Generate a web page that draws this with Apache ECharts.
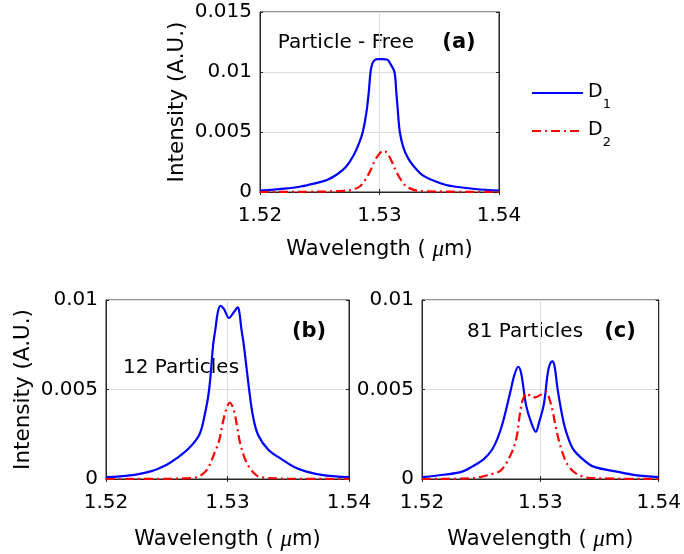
<!DOCTYPE html>
<html>
<head>
<meta charset="utf-8">
<script src="https://cdn.jsdelivr.net/npm/echarts@6/dist/echarts.min.js"></script>
<style>
html,body{margin:0;padding:0;background:#fff;}
#chart{width:684px;height:554px;}
</style>
</head>
<body>
<div id="chart"></div>
<script>
// ---- data ----
const xTicks = [1.52, 1.53, 1.54];
const yTicksA = [0, 0.005, 0.01, 0.015];
const yTicksBC = [0, 0.005, 0.01];

// Panel (a) Particle-Free
const wlA1 = [1.520, 1.522, 1.5233, 1.5245, 1.5256, 1.5265, 1.5272, 1.5278, 1.5283, 1.5286, 1.5289, 1.5291, 1.52925, 1.5294, 1.5296, 1.5299, 1.5302, 1.5305, 1.5307, 1.5309, 1.53125, 1.5314, 1.5315, 1.5317, 1.5320, 1.5324, 1.5329, 1.5336, 1.5344, 1.5355, 1.5364, 1.538, 1.540];
const d1A = [0.00011, 0.00028, 0.00044, 0.0007, 0.001, 0.0015, 0.0021, 0.003, 0.0041, 0.005, 0.0066, 0.0083, 0.0100, 0.0107, 0.0110, 0.01108, 0.01108, 0.01105, 0.0110, 0.0107, 0.0100, 0.0084, 0.0072, 0.005, 0.0037, 0.0028, 0.0021, 0.0014, 0.001, 0.0006, 0.00044, 0.00025, 0.00011];
const wlA2 = [1.520, 1.524, 1.526, 1.527, 1.5278, 1.5284, 1.5288, 1.5292, 1.5296, 1.5300, 1.5303, 1.5306, 1.5310, 1.5314, 1.5318, 1.5322, 1.5328, 1.5335, 1.540];
const d2A = [0, 0.00002, 0.00005, 0.0001, 0.0002, 0.0005, 0.001, 0.0017, 0.0026, 0.0032, 0.00344, 0.0033, 0.0026, 0.0017, 0.001, 0.0005, 0.0002, 0.00007, 0];

// Panel (b) 12 Particles
const wlB1 = [1.520, 1.522, 1.5236, 1.5250, 1.5258, 1.5268, 1.52767, 1.5281, 1.52849, 1.52882, 1.52901, 1.5292, 1.52942, 1.5297, 1.53013, 1.5305, 1.53085, 1.5310, 1.53114, 1.53134, 1.53178, 1.5321, 1.53252, 1.5334, 1.53436, 1.5354, 1.5365, 1.538, 1.540];
const d1B = [0.0001, 0.0002, 0.00041, 0.0008, 0.00115, 0.0017, 0.00246, 0.0035, 0.005, 0.0075, 0.0084, 0.0093, 0.00968, 0.0095, 0.0090, 0.0093, 0.00959, 0.0092, 0.0084, 0.0075, 0.005, 0.0035, 0.00246, 0.0016, 0.00115, 0.0007, 0.00041, 0.0002, 0.0001];
const wlB2 = [1.520, 1.525, 1.5268, 1.52745, 1.5280, 1.5284, 1.5289, 1.52929, 1.5296, 1.52990, 1.53019, 1.5305, 1.5308, 1.53101, 1.5314, 1.53183, 1.5323, 1.53268, 1.535, 1.540];
const d2B = [0, 0.00001, 0.00005, 0.0001, 0.0003, 0.00061, 0.0014, 0.00209, 0.0031, 0.0039, 0.00426, 0.0039, 0.0029, 0.00209, 0.0012, 0.00061, 0.00025, 0.0001, 0.00002, 0];

// Panel (c) 81 Particles
const wlC1 = [1.520, 1.522, 1.52339, 1.52423, 1.5252, 1.5259, 1.5264, 1.52681, 1.52751, 1.5278, 1.52813, 1.52838, 1.5288, 1.52925, 1.52962, 1.52987, 1.5303, 1.53062, 1.5308, 1.53101, 1.5312, 1.53146, 1.53198, 1.5324, 1.53282, 1.5336, 1.5345, 1.53646, 1.538, 1.540];
const d1C = [0.0001, 0.00025, 0.00041, 0.00069, 0.0011, 0.00162, 0.0023, 0.00311, 0.005, 0.0058, 0.00627, 0.0059, 0.0041, 0.00311, 0.00264, 0.00311, 0.0042, 0.0059, 0.0064, 0.00657, 0.0063, 0.005, 0.00311, 0.0022, 0.00162, 0.0011, 0.00069, 0.00041, 0.00022, 0.0001];
const wlC2 = [1.520, 1.5240, 1.5250, 1.5260, 1.5267, 1.52755, 1.5280, 1.52824, 1.5285, 1.52887, 1.5292, 1.52955, 1.5300, 1.53046, 1.5308, 1.5311, 1.5313, 1.5318, 1.5324, 1.5333, 1.5345, 1.540];
const d2C = [0, 0.00003, 0.00012, 0.0003, 0.0005, 0.00143, 0.00236, 0.0035, 0.0044, 0.00479, 0.0046, 0.00456, 0.0047, 0.00488, 0.0044, 0.0036, 0.0029, 0.0016, 0.0007, 0.0002, 0.00005, 0];

const seriesNames = ['D1', 'D2'];
const labels = {
  a: 'Particle - Free', b: '12 Particles', c: '81 Particles'
};
const panelTags = ['(a)', '(b)', '(c)'];

// ---- chart ----
const FONT = 'DejaVu Sans';
const AXC = '#262626';
const pair = (xs, ys) => xs.map((x, i) => [x, ys[i]]);

function xAxisCfg(gi) {
  return {
    type: 'value', gridIndex: gi, min: xTicks[0], max: xTicks[xTicks.length - 1], interval: 0.01,
    axisLine: { show: true, lineStyle: { color: AXC, width: 1 } },
    axisTick: { show: true, inside: true, length: 3, lineStyle: { color: AXC } },
    axisLabel: { color: '#000', fontFamily: FONT, fontSize: 20, margin: 14, formatter: v => v.toFixed(2) },
    splitLine: { show: true, lineStyle: { color: '#dedede', width: 1 } },
    name: 'Wavelength ( {mu|μ}m)', nameLocation: 'middle', nameGap: gi === 0 ? 46 : 49,
    nameTextStyle: { color: '#000', fontFamily: FONT, fontSize: 21,
      rich: { mu: { fontFamily: 'Liberation Serif', fontStyle: 'italic', fontSize: 23, color: '#000' } } }
  };
}
function xTopCfg(gi) {
  return {
    type: 'value', gridIndex: gi, position: 'top', min: xTicks[0], max: xTicks[xTicks.length - 1], interval: 0.01,
    axisLine: { show: true, lineStyle: { color: AXC, width: 1 } },
    axisTick: { show: true, inside: true, length: 3, lineStyle: { color: AXC } },
    axisLabel: { show: false }, splitLine: { show: false }
  };
}
function yAxisCfg(gi, max, showName) {
  return {
    type: 'value', gridIndex: gi, min: 0, max: max, interval: 0.005,
    axisLine: { show: true, lineStyle: { color: AXC, width: 1 } },
    axisTick: { show: true, inside: true, length: 3, lineStyle: { color: AXC } },
    axisLabel: { color: '#000', fontFamily: FONT, fontSize: 20, margin: 8, formatter: v => String(+v.toFixed(3)) },
    splitLine: { show: true, lineStyle: { color: '#dedede', width: 1 } },
    name: showName ? 'Intensity (A.U.)' : '', nameLocation: 'middle', nameGap: 72, nameRotate: 90,
    nameTextStyle: { color: '#000', fontFamily: FONT, fontSize: 21.5 }
  };
}
function yRightCfg(gi, max) {
  return {
    type: 'value', gridIndex: gi, position: 'right', min: 0, max: max, interval: 0.005,
    axisLine: { show: true, lineStyle: { color: AXC, width: 1 } },
    axisTick: { show: true, inside: true, length: 3, lineStyle: { color: AXC } },
    axisLabel: { show: false }, splitLine: { show: false }
  };
}
const gridBase = { show: true, borderColor: AXC, borderWidth: 1, backgroundColor: 'transparent', containLabel: false };

const blueStyle = { color: '#0000ff', width: 2.2, type: 'solid' };
const redStyle = { color: '#ff0000', width: 2.2, type: [9, 4, 2, 4] };
function ser(name, gi, data, style) {
  return {
    name: name, type: 'line', xAxisIndex: gi, yAxisIndex: gi, data: data,
    symbol: 'none', showSymbol: false, smooth: 0.35, lineStyle: style, itemStyle: { color: style.color },
    z: name === 'D2' ? 3 : 2, animation: false
  };
}

const chart = echarts.init(document.getElementById('chart'), null, { renderer: 'canvas' });
chart.setOption({
  animation: false,
  backgroundColor: '#fff',
  grid: [
    Object.assign({ left: 260, top: 12, width: 239, height: 180 }, gridBase),
    Object.assign({ left: 106, top: 300, width: 243, height: 179 }, gridBase),
    Object.assign({ left: 422, top: 300, width: 239, height: 179 }, gridBase)
  ],
  xAxis: [xAxisCfg(0), xAxisCfg(1), xAxisCfg(2), xTopCfg(0), xTopCfg(1), xTopCfg(2)],
  yAxis: [yAxisCfg(0, 0.015, true), yAxisCfg(1, 0.01, true), yAxisCfg(2, 0.01, false),
          yRightCfg(0, 0.015), yRightCfg(1, 0.01), yRightCfg(2, 0.01)],
  legend: {
    orient: 'vertical', left: 526, top: 78, itemWidth: 51, itemHeight: 14, itemGap: 10,
    data: seriesNames,
    itemStyle: { color: 'transparent', borderWidth: 0, opacity: 0 },
    formatter: n => '{m|D}{s|' + n.slice(1) + '}',
    textStyle: {
      color: '#000', fontFamily: FONT, fontSize: 20,
      rich: {
        m: { fontFamily: FONT, fontSize: 19, color: '#000', lineHeight: 20, verticalAlign: 'top' },
        s: { fontFamily: FONT, fontSize: 13, color: '#000', lineHeight: 13, padding: [15, 0, 0, 0], verticalAlign: 'top' }
      }
    }
  },
  series: [
    ser('D1', 0, pair(wlA1, d1A), blueStyle),
    ser('D2', 0, pair(wlA2, d2A), redStyle),
    ser('D1', 1, pair(wlB1, d1B), blueStyle),
    ser('D2', 1, pair(wlB2, d2B), redStyle),
    ser('D1', 2, pair(wlC1, d1C), blueStyle),
    ser('D2', 2, pair(wlC2, d2C), redStyle)
  ],
  graphic: [
    { type: 'text', x: 346, y: 43, style: { text: labels.a, fontFamily: FONT, fontSize: 20, fill: '#000', align: 'center', verticalAlign: 'middle' } },
    { type: 'text', x: 459, y: 43, style: { text: panelTags[0], fontFamily: FONT, fontSize: 21, fontWeight: 'bold', fill: '#000', align: 'center', verticalAlign: 'middle' } },
    { type: 'text', x: 181, y: 368, style: { text: labels.b, fontFamily: FONT, fontSize: 20, fill: '#000', align: 'center', verticalAlign: 'middle' } },
    { type: 'text', x: 309, y: 332, style: { text: panelTags[1], fontFamily: FONT, fontSize: 21, fontWeight: 'bold', fill: '#000', align: 'center', verticalAlign: 'middle' } },
    { type: 'text', x: 525, y: 332, style: { text: labels.c, fontFamily: FONT, fontSize: 20, fill: '#000', align: 'center', verticalAlign: 'middle' } },
    { type: 'text', x: 620, y: 332, style: { text: panelTags[2], fontFamily: FONT, fontSize: 21, fontWeight: 'bold', fill: '#000', align: 'center', verticalAlign: 'middle' } }
  ]
});
</script>
</body>
</html>
